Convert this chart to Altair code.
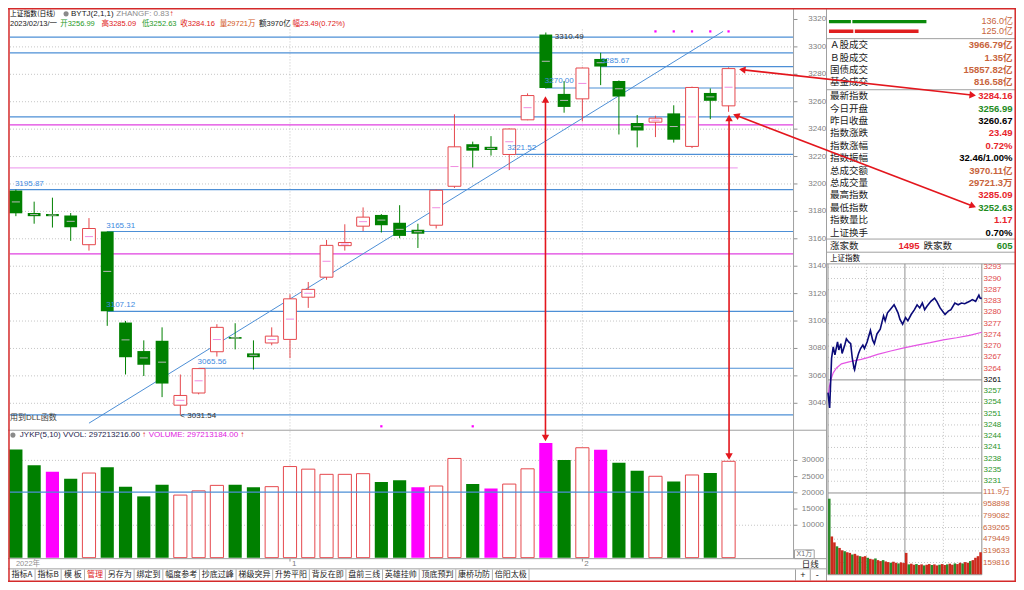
import math
import numpy as np
import pandas as pd
import altair as alt

W, H = 1008, 574
def X(v): return v * W / 1024.0
def Y(v): return v * H / 590.0

# ==================== DATA ====================
# daily candles, 2022-12-12 .. 2023-02-13 (上证指数)
opens = [3195.2, 3178.8, 3178.1, 3177.0, 3155.7, 3165.31, 3098.9, 3078.1, 3085.6, 3038.6,
         3047.5, 3077.6, 3088.3, 3076.4, 3084.0, 3086.6, 3117.4, 3132.0, 3155.0, 3169.2,
         3177.4, 3171.7, 3166.6, 3169.9, 3198.3, 3229.0, 3227.1, 3221.52, 3246.8, 3309.0,
         3265.7, 3262.1, 3291.2, 3275.1, 3244.5, 3245.1, 3251.5, 3227.4, 3266.4, 3256.99]
highs = [3195.87, 3187.1, 3190.0, 3178.8, 3175.1, 3165.31, 3100.1, 3085.9, 3095.4, 3061.0,
         3065.56, 3097.7, 3098.4, 3085.9, 3095.4, 3119.5, 3128.5, 3159.2, 3170.6, 3182.9,
         3178.0, 3184.5, 3171.0, 3196.0, 3250.8, 3230.9, 3234.9, 3240.5, 3266.1, 3310.49,
         3275.1, 3285.0, 3295.7, 3275.5, 3250.3, 3249.8, 3257.4, 3271.0, 3269.7, 3285.09]
lows = [3176.5, 3171.0, 3168.2, 3158.5, 3151.4, 3096.5, 3061.0, 3059.9, 3044.5, 3031.54,
        3046.5, 3074.1, 3079.3, 3064.6, 3082.3, 3072.9, 3109.6, 3130.1, 3151.4, 3165.6,
        3164.6, 3160.4, 3153.3, 3167.5, 3197.1, 3212.0, 3220.7, 3210.1, 3246.5, 3269.5,
        3252.0, 3245.6, 3272.1, 3236.1, 3226.7, 3234.2, 3230.2, 3226.2, 3247.3, 3252.63]
closes = [3178.6, 3176.5, 3176.5, 3168.5, 3167.5, 3107.12, 3073.6, 3068.1, 3054.4, 3045.7,
          3065.3, 3095.4, 3087.1, 3073.6, 3089.0, 3116.2, 3123.1, 3155.2, 3157.3, 3175.8,
          3169.9, 3162.1, 3163.7, 3195.4, 3227.1, 3224.3, 3224.8, 3240.1, 3264.5, 3270.0,
          3256.2, 3284.6, 3285.67, 3263.8, 3239.0, 3248.0, 3232.3, 3270.4, 3260.67, 3284.16]
volumes = [33340, 28520, 26500, 24300, 26100, 27900, 21900, 18900, 22500, 19300,
           20600, 22300, 22500, 21700, 21900, 28100, 27300, 25700, 25700, 25900,
           23300, 23900, 21700, 22100, 30600, 22700, 21300, 22700, 27400, 35400,
           30100, 33900, 33300, 29300, 26800, 25100, 23500, 25500, 26100, 29721]
volume_kind = ["g", "g", "m", "g", "r", "g", "g", "g", "g", "r",
               "r", "r", "g", "g", "r", "r", "r", "r", "r", "r",
               "g", "g", "m", "r", "r", "g", "m", "r", "r", "m",
               "g", "r", "m", "g", "g", "r", "g", "r", "g", "r"]
month_first_index = [16, 32]
month_labels = ["1", "2"]

blue_levels = [3307.1, 3295.7, 3285.67, 3270.00, 3248.9, 3221.52, 3195.87, 3165.31, 3107.12, 3065.56, 3031.54]
blue_from = [0.67, 0.67, 33, 30, 0.67, 28, 0.67, 6, 6, 11, 0.67]
magenta_levels = [3243.1, 3149.0]
magenta_light_level = [3211.8]
trend_index = [5.0, 39.7]
trend_price = [3025.5, 3311.3]
vol_level = [20240]
signal_top_index = [36, 37, 38, 39, 40]
signal_bottom_index = [21, 26]

ann_index = [1, 6, 6, 11, 10, 28, 30, 33, 30]
ann_price = [3195.87, 3165.31, 3107.12, 3065.56, 3031.54, 3221.52, 3270.00, 3285.67, 3310.49]
ann_text = ["3195.87", "3165.31", "3107.12", "3065.56", "<  3031.54", "3221.52", "3270.00", "3285.67", "3310.49"]

price_ticks = [3320, 3300, 3280, 3260, 3240, 3220, 3200, 3180, 3160, 3140, 3120, 3100, 3080, 3060, 3040]
vol_ticks = [30000, 25000, 20000, 15000, 10000]

# right info panel
flow_values = [136.0, 125.0]
flow_labels = ["136.0亿", "125.0亿"]
g1_labels = ["Ａ股成交", "Ｂ股成交", "国债成交", "基金成交"]
g1_values = ["3966.79亿", "1.35亿", "15857.82亿", "816.58亿"]
g2_labels = ["最新指数", "今日开盘", "昨日收盘", "指数涨跌", "指数涨幅", "指数振幅",
             "总成交额", "总成交量", "最高指数", "最低指数", "指数量比", "上证换手"]
g2_values = ["3284.16", "3256.99", "3260.67", "23.49", "0.72%", "32.46/1.00%",
             "3970.11亿", "29721.3万", "3285.09", "3252.63", "1.17", "0.70%"]
g2_kind = ["r", "g", "k", "r", "r", "k", "o", "o", "r", "g", "r", "k"]
up_count, down_count = "1495", "605"

# intraday (minutes from open)
intraday_min = [0, 2.6, 5.6, 8.2, 10.8, 14.9, 16.9, 20, 22, 26.2, 28.7, 32.3, 35.4, 37.9, 40.5,
                41.5, 44.1, 47.7, 50.8, 54.4, 56.9, 61, 66.2, 69.7, 72.3, 76.4, 81.5, 86.7, 89.2,
                92.8, 96.9, 103.1, 105.6, 109.2, 112.3, 116.4, 121, 124.6, 129.7, 134.9, 139,
                143.1, 147.2, 150.8, 154.4, 160.5, 166.2, 169.7, 174.9, 182.6, 187.7, 191.8,
                197.9, 203.1, 208.2, 213.3, 221, 225.1, 230.3, 235.4, 237.4, 240]
intraday_px = [3257.0, 3252.6, 3266.9, 3270.2, 3267.9, 3271.6, 3269.3, 3271.1, 3268.3, 3270.7,
               3272.5, 3271.6, 3271.1, 3266.9, 3264.1, 3263.6, 3266.0, 3268.3, 3269.7, 3270.7,
               3269.7, 3271.6, 3274.9, 3272.1, 3271.1, 3273.9, 3275.3, 3279.1, 3277.7, 3280.0,
               3280.9, 3282.3, 3281.4, 3280.0, 3278.1, 3276.7, 3278.6, 3277.7, 3279.5, 3280.9,
               3282.3, 3281.4, 3282.8, 3280.9, 3281.9, 3283.3, 3284.2, 3283.3, 3281.4, 3279.5,
               3280.5, 3280.9, 3282.8, 3282.3, 3282.8, 3282.6, 3283.3, 3283.8, 3283.3, 3285.1,
               3284.2, 3284.16]
avg_min = [0.5, 2, 4.6, 8.2, 13.3, 21, 31.3, 41.5, 51.8, 62, 77.4, 97.9, 118.5, 139, 159.5,
           180, 200.5, 221, 240]
avg_px = [3256.6, 3258.5, 3260.8, 3262.7, 3264.1, 3265.3, 3265.8, 3266.2, 3266.6, 3267.1,
          3268.0, 3269.0, 3269.9, 3270.7, 3271.4, 3272.2, 3272.8, 3273.5, 3274.4]
intraday_vol_k = [1034, 517, 436, 382, 360, 328, 315, 301, 292, 270,
                  279, 256, 247, 238, 247, 225, 211, 202, 216, 193,
                  180, 193, 175, 166, 157, 171, 157, 148, 162, 153,
                  292, 135, 144, 130, 139, 126, 135, 121, 130, 139,
                  126, 135, 121, 130, 139, 126, 135, 144, 130, 148,
                  139, 157, 148, 166, 157, 180, 193, 225, 247, 301]
intraday_vol_up = [0, 1, 1, 0, 1, 1, 0, 1, 1, 0, 1, 1, 0, 1, 1, 0, 1, 1, 0, 1,
                   1, 0, 1, 1, 0, 1, 1, 0, 1, 1, 1, 0, 1, 1, 0, 1, 1, 0, 1, 1,
                   0, 1, 1, 0, 1, 1, 0, 1, 1, 0, 1, 1, 0, 1, 1, 0, 1, 1, 1, 1]
prev_close = 3260.67
ip_tick_labels = ["3293", "3290", "3287", "3283", "3280", "3277", "3274", "3270", "3267", "3264",
                  "3261", "3257", "3254", "3251", "3248", "3244", "3241", "3238", "3235", "3231"]
iv_tick_values = [1119000, 958898, 799082, 639265, 479449, 319633, 159816]
iv_tick_labels = ["111.9万", "958898", "799082", "639265", "479449", "319633", "159816"]

tool_buttons = ["指标A", "指标B", "模 板", "管理", "另存为", "绑定到", "幅度参考", "抄底过峰",
                "梯级突异", "升势平阳", "背反在即", "盘前三线", "英雄挂帅", "顶底预判", "康桥功防", "倍阳太极"]

# ==================== STYLE ====================
RED = "#e5484d"
ARROW = "#e3161d"
GREEN = "#008000"
GREEN_T = "#1f9a1f"
MAG = "#ff00ff"
BLUE = "#4d8fd6"
BLUE_T = "#3d8ae0"
GRID = "#c4c4c4"
LINE = "#a0a0a0"
ORANGE = "#c8643c"
FONT = "'Liberation Sans', 'Noto Sans CJK SC', sans-serif"
CJK = "'Noto Sans CJK SC', sans-serif"


def sc(d, r):
    return alt.Scale(domain=list(d), range=list(r), nice=False, zero=False)

XR = sc([0, 1024], [0, W]); YR = sc([0, 590], [0, H])
XI = sc([1, 40], [X(8), X(732)])
YP = sc([3040, 3320], [Y(406.3), Y(11.8)])
YV = sc([0, 30000], [Y(565), Y(465)])
XM = sc([0, 240], [X(833), X(989.3)])
YIP = sc([3228.23, 3293.11], [Y(498), Y(266.5)])
YIV = sc([0, 1119000], [Y(582), Y(498)])
XB = sc([0, 136], [X(834), X(933)])


def ex(f, s): return alt.X(f + ':Q', scale=s, axis=None)
def ey(f, s): return alt.Y(f + ':Q', scale=s, axis=None)


def chrome_rules(rows, color, width=1.0, dash=None):
    d = pd.DataFrame(rows, columns=['x', 'y', 'x2', 'y2'])
    kw = dict(color=color, strokeWidth=width)
    if dash:
        kw['strokeDash'] = dash
    return alt.Chart(d).mark_rule(**kw).encode(
        x=ex('x', XR), y=ey('y', YR), x2=alt.X2('x2'), y2=alt.Y2('y2'))


def chrome_text(rows, align='left', weight='normal', font=FONT):
    d = pd.DataFrame(rows, columns=['x', 'y', 't', 'c', 's'])
    return alt.Chart(d).mark_text(align=align, baseline='middle', fontWeight=weight, font=font).encode(
        x=ex('x', XR), y=ey('y', YR), text='t:N',
        color=alt.Color('c:N', scale=None), size=alt.Size('s:Q', scale=None))


L = []

# ---------- price panel grid & levels ----------
L.append(alt.Chart(pd.DataFrame({'p': price_ticks[1:]})).mark_rule(color=GRID, strokeDash=[1, 2]).encode(
    y=ey('p', YP), x=alt.value(X(2)), x2=alt.value(X(798))))
L.append(alt.Chart(pd.DataFrame({'v': [30000, 10000]})).mark_rule(color=GRID, strokeDash=[1, 2]).encode(
    y=ey('v', YV), x=alt.value(X(2)), x2=alt.value(X(798))))
L.append(alt.Chart(pd.DataFrame({'i': month_first_index})).mark_rule(color=GRID, strokeDash=[1, 2]).encode(
    x=ex('i', XI), y=alt.value(Y(22)), y2=alt.value(Y(566))))

bl = pd.DataFrame({'p': blue_levels, 's': blue_from, 'e': [43.56] * len(blue_levels)})
L.append(alt.Chart(bl).mark_rule(color=BLUE, strokeWidth=1.2).encode(
    x=ex('s', XI), x2=alt.X2('e'), y=ey('p', YP)))
L.append(alt.Chart(pd.DataFrame({'p': magenta_levels, 's': [0.67, 0.67], 'e': [43.56, 43.56]}))
         .mark_rule(color="#e040e0", strokeWidth=1.2).encode(x=ex('s', XI), x2=alt.X2('e'), y=ey('p', YP)))
L.append(alt.Chart(pd.DataFrame({'p': magenta_light_level, 's': [0.67], 'e': [40.5]}))
         .mark_rule(color="#f0a8f0", strokeWidth=1.2).encode(x=ex('s', XI), x2=alt.X2('e'), y=ey('p', YP)))
L.append(alt.Chart(pd.DataFrame({'a': [trend_index[0]], 'b': [trend_index[1]],
                                 'p': [trend_price[0]], 'q': [trend_price[1]]}))
         .mark_rule(color=BLUE, strokeWidth=1).encode(
             x=ex('a', XI), x2=alt.X2('b'), y=ey('p', YP), y2=alt.Y2('q')))

# ---------- candles ----------
cd = pd.DataFrame({'i': list(range(1, 41)), 'o': opens, 'h': highs, 'l': lows, 'c': closes,
                   'v': volumes, 'k': volume_kind})
up = cd.c >= cd.o
cd['up'] = up
cd['wc'] = np.where(up, RED, GREEN)
cd['bl'] = cd.i - 0.35
cd['br'] = cd.i + 0.35
cd['lo'] = np.minimum(cd.o, cd.c)
cd['hi'] = np.maximum(cd.o, cd.c)
cd['mid'] = (cd.o + cd.c) / 2
cd['ml'] = cd.i - 0.22
cd['mr'] = cd.i + 0.22
cd['mc'] = np.where(up, "#f08ce0", "#b8b8b8")
cd['z'] = 0.0
cd['vl'] = cd.i - 0.36
cd['vr'] = cd.i + 0.36

L.append(alt.Chart(cd).mark_rule(strokeWidth=1).encode(
    x=ex('i', XI), y=ey('l', YP), y2=alt.Y2('h'), color=alt.Color('wc:N', scale=None)))
L.append(alt.Chart(cd[~cd.up]).mark_rect(color=GREEN).encode(
    x=ex('bl', XI), x2=alt.X2('br'), y=ey('lo', YP), y2=alt.Y2('hi')))
L.append(alt.Chart(cd[cd.up]).mark_rect(fill='white', stroke=RED, strokeWidth=1).encode(
    x=ex('bl', XI), x2=alt.X2('br'), y=ey('lo', YP), y2=alt.Y2('hi')))
L.append(alt.Chart(cd).mark_rule(strokeWidth=1).encode(
    x=ex('ml', XI), x2=alt.X2('mr'), y=ey('mid', YP), color=alt.Color('mc:N', scale=None)))

# ---------- volume ----------
L.append(alt.Chart(cd[cd.k == 'g']).mark_rect(color=GREEN).encode(
    x=ex('vl', XI), x2=alt.X2('vr'), y=ey('v', YV), y2=alt.Y2('z')))
L.append(alt.Chart(cd[cd.k == 'm']).mark_rect(color=MAG).encode(
    x=ex('vl', XI), x2=alt.X2('vr'), y=ey('v', YV), y2=alt.Y2('z')))
L.append(alt.Chart(cd[cd.k == 'r']).mark_rect(fill='white', stroke=RED, strokeWidth=1).encode(
    x=ex('vl', XI), x2=alt.X2('vr'), y=ey('v', YV), y2=alt.Y2('z')))
L.append(alt.Chart(pd.DataFrame({'v': vol_level})).mark_rule(color=BLUE, strokeWidth=1.2).encode(
    y=ey('v', YV), x=alt.value(X(2)), x2=alt.value(X(798))))

# ---------- annotations ----------
ann_dx = [-1, -1, -1, -1, 0, -2, -1, 0, 9]
ann_dy = [-6, -6, -6, -6, 1, -6, -7, -6, 4]
for k in range(len(ann_text)):
    col = "#303030" if k in (4, 8) else BLUE_T
    d = pd.DataFrame({'i': [ann_index[k]], 'p': [ann_price[k]], 't': [ann_text[k]]})
    L.append(alt.Chart(d).mark_text(align='left', baseline='middle', dx=ann_dx[k], dy=ann_dy[k],
                                    color=col, font=FONT, fontSize=8).encode(
        x=ex('i', XI), y=ey('p', YP), text='t:N'))
L.append(alt.Chart(pd.DataFrame({'i': signal_top_index, 'p': [3311.3] * 5})).mark_square(size=5, color=MAG, opacity=1).encode(
    x=ex('i', XI), y=ey('p', YP)))
L.append(alt.Chart(pd.DataFrame({'i': signal_bottom_index, 'p': [3023.2] * 2})).mark_square(size=5, color=MAG, opacity=1).encode(
    x=ex('i', XI), y=ey('p', YP)))

# ---------- axes ----------
L.append(alt.Chart(pd.DataFrame({'p': price_ticks, 't': [str(v) for v in price_ticks]}))
         .mark_text(align='left', baseline='middle', color="#808080", font=FONT, fontSize=8).encode(
             x=alt.value(X(813)), y=ey('p', YP), text='t:N'))
L.append(alt.Chart(pd.DataFrame({'p': price_ticks})).mark_rule(color="#909090").encode(
    y=ey('p', YP), x=alt.value(X(798)), x2=alt.value(X(802))))
L.append(alt.Chart(pd.DataFrame({'v': vol_ticks, 't': [str(v) for v in vol_ticks]}))
         .mark_text(align='right', baseline='middle', color="#808080", font=FONT, fontSize=8).encode(
             x=alt.value(X(829)), y=ey('v', YV), text='t:N'))
L.append(alt.Chart(pd.DataFrame({'v': vol_ticks})).mark_rule(color="#909090").encode(
    y=ey('v', YV), x=alt.value(X(798)), x2=alt.value(X(802))))
L.append(alt.Chart(pd.DataFrame({'i': month_first_index, 't': month_labels}))
         .mark_text(align='left', baseline='middle', dx=2, color="#808080", font=FONT, fontSize=8).encode(
             x=ex('i', XI), y=alt.value(Y(571)), text='t:N'))
L.append(alt.Chart(pd.DataFrame({'i': month_first_index})).mark_rule(color="#909090").encode(
    x=ex('i', XI), y=alt.value(Y(566)), y2=alt.value(Y(569))))

# ---------- structure lines ----------
L.append(chrome_rules([
    (798, 0, 798, 566), (0, 434, 831, 434), (0, 566, 831, 566), (0, 576.5, 831, 576.5),
    (831.5, 0, 831.5, 590), (831.5, 31.5, 1023, 31.5), (831.5, 84, 1023, 84),
    (831.5, 237.5, 1023, 237.5), (831.5, 251, 1023, 251), (831.5, 263, 1023, 263),
    (799, 557, 819, 557), (799, 566, 819, 566), (799, 557, 799, 566), (819, 557, 819, 566),
    (800, 577, 800, 588.5), (815, 577, 815, 588.5),
], LINE))
L.append(chrome_rules([(1, 0, 1, 590), (0, 0.8, 1024, 0.8), (1023.2, 0, 1023.2, 590),
                       (0, 589.2, 1024, 589.2)], "#d42a2a", 1.5))

# ---------- header texts ----------
L.append(chrome_text([(2, 6, "上证指数(日线)", "#000000", 6.8)], font=CJK))
L.append(alt.Chart(pd.DataFrame({'x': [59, 5], 'y': [6, 439]})).mark_circle(size=26, color="#8a8a8a", opacity=1).encode(
    x=ex('x', XR), y=ey('y', YR)))
L.append(chrome_text([
    (64, 6, "BYTJ(2,1,1)", "#202020", 8),
    (110, 6, "ZHANGF: 0.83", "#8c8c8c", 8),
    (164, 6, "↑", "#e02020", 8),
    (2, 16, "2023/02/13/一", "#202020", 7.5),
    (53, 16, "开3256.99", GREEN_T, 7.5),
    (95, 16, "高3285.09", "#e02020", 7.5),
    (136, 16, "低3252.63", GREEN_T, 7.5),
    (175, 16, "收3284.16", "#e02020", 7.5),
    (215, 16, "量29721万", "#d2581e", 7.5),
    (255, 16, "额3970亿", "#202020", 7.5),
    (289, 16, "幅23.49(0.72%)", "#e02020", 7.5),
    (12, 439, "JYKP(5,10) VVOL: 297213216.00", "#1c1c4c", 8),
    (136, 439, "↑", "#e02020", 8),
    (143, 439, "VOLUME: 297213184.00", "#e020e0", 8),
    (236, 439, "↑", "#e02020", 8),
    (2, 421, "用到DLL函数", "#404040", 8),
    (8, 571, "2022年", "#909090", 7.5),
]))
L.append(chrome_text([(815, 571.5, "日线", "#202020", 8.5), (809, 561.5, "X1万", "#707070", 7),
                      (807.5, 583, "+", "#202020", 9), (822, 583, "-", "#202020", 9)], align='center'))

# ---------- toolbar ----------
def tw(s):
    return sum(8.0 if ord(ch) > 255 else (2.5 if ch == ' ' else 5.3) for ch in s)
xpos = 1.0
tb_rows, tb_seps = [], []
for name in tool_buttons:
    w = tw(name) + 5.2
    tb_rows.append((xpos + w / 2, 582.8, name, "#e02020" if name == "管理" else "#1a1a1a", 8))
    xpos += w
    tb_seps.append((xpos, 577, xpos, 588.5))
L.append(chrome_rules(tb_seps, "#b0b0b0"))
L.append(chrome_text(tb_rows, align='center', font=CJK))

# ---------- right info panel ----------
fb = pd.DataFrame({'v': flow_values, 'z': [0.0, 0.0], 'y0': [12.3, 22.0], 'y1': [15.7, 25.7],
                   'c': ["#0a8a0a", "#e02020"]})
L.append(alt.Chart(fb).mark_rect().encode(x=ex('z', XB), x2=alt.X2('v'), y=ey('y0', YR), y2=alt.Y2('y1'),
                                          color=alt.Color('c:N', scale=None)))
L.append(chrome_rules([(857, 11, 857, 17), (859.5, 21, 859.5, 27)], "white", 1.5))
L.append(chrome_text([(1021, 13.5, flow_labels[0], ORANGE, 9), (1021, 24, flow_labels[1], ORANGE, 9)], align='right'))

lab_rows, val_rows = [], []
for k, (lab, val) in enumerate(zip(g1_labels, g1_values)):
    yy = 38.3 + 12.6 * k
    lab_rows.append((835, yy, lab, "#1a1a1a", 9.5))
    val_rows.append((1020.5, yy, val, ORANGE, 9.5))
kc = {'r': "#e8242c", 'g': "#1e8c1e", 'k': "#000000", 'o': ORANGE}
for k, (lab, val) in enumerate(zip(g2_labels, g2_values)):
    yy = 90.7 + 12.75 * k
    lab_rows.append((835, yy, lab, "#1a1a1a", 9.5))
    val_rows.append((1020.5, yy, val, kc[g2_kind[k]], 9.5))
lab_rows += [(835, 244.3, "涨家数", "#1a1a1a", 9.5), (930, 244.3, "跌家数", "#1a1a1a", 9.5),
             (835, 257.5, "上证指数", "#000000", 7.5)]
val_rows += [(926, 244.3, up_count, "#e8242c", 9.5), (1020.5, 244.3, down_count, "#1e8c1e", 9.5)]
L.append(chrome_text(lab_rows, font=CJK))
L.append(chrome_text(val_rows, align='right', weight='bold'))

# ---------- intraday chart ----------
step = (3293.11 - prev_close) / 10.0
ip_levels = [3293.11 - step * k for k in range(20)]
L.append(alt.Chart(pd.DataFrame({'p': [p for k, p in enumerate(ip_levels) if k != 10]}))
         .mark_rule(color=GRID, strokeDash=[1, 2]).encode(
             y=ey('p', YIP), x=alt.value(X(833)), x2=alt.value(X(989.3))))
L.append(alt.Chart(pd.DataFrame({'v': iv_tick_values[1:]})).mark_rule(color=GRID, strokeDash=[1, 2]).encode(
    y=ey('v', YIV), x=alt.value(X(833)), x2=alt.value(X(989.3))))
L.append(alt.Chart(pd.DataFrame({'m': [60, 180]})).mark_rule(color=GRID, strokeDash=[1, 2]).encode(
    x=ex('m', XM), y=alt.value(Y(263)), y2=alt.value(Y(582.5))))
L.append(alt.Chart(pd.DataFrame({'m': [0, 120, 240]})).mark_rule(color="#909090").encode(
    x=ex('m', XM), y=alt.value(Y(263)), y2=alt.value(Y(582.5))))
L.append(alt.Chart(pd.DataFrame({'p': [prev_close]})).mark_rule(color="#909090").encode(
    y=ey('p', YIP), x=alt.value(X(833)), x2=alt.value(X(989.3))))
L.append(chrome_rules([(833, 498.5, 989.3, 498.5), (833, 582.5, 989.3, 582.5)], "#909090"))

ivd = pd.DataFrame({'s': [4.0 * k for k in range(60)], 'e': [4.0 * k + 4 for k in range(60)],
                    'v': [v * 1000 for v in intraday_vol_k], 'z': [0.0] * 60,
                    'c': ["#cc2a1e" if u else "#2a8a2a" for u in intraday_vol_up]})
L.append(alt.Chart(ivd).mark_rect().encode(x=ex('s', XM), x2=alt.X2('e'), y=ey('v', YIV), y2=alt.Y2('z'),
                                           color=alt.Color('c:N', scale=None)))
L.append(alt.Chart(pd.DataFrame({'m': avg_min, 'p': avg_px})).mark_line(color="#e455e4", strokeWidth=1.2).encode(
    x=ex('m', XM), y=ey('p', YIP)))
L.append(alt.Chart(pd.DataFrame({'m': intraday_min, 'p': intraday_px})).mark_line(color="#0a0a78", strokeWidth=1.6).encode(
    x=ex('m', XM), y=ey('p', YIP)))
ipl = pd.DataFrame({'p': ip_levels, 't': ip_tick_labels,
                    'c': ["#e04848" if k < 10 else ("#000000" if k == 10 else "#2c962c") for k in range(20)]})
L.append(alt.Chart(ipl).mark_text(align='left', baseline='middle', font=FONT, fontSize=8).encode(
    x=alt.value(X(991)), y=ey('p', YIP), text='t:N', color=alt.Color('c:N', scale=None)))
L.append(alt.Chart(pd.DataFrame({'v': iv_tick_values, 't': iv_tick_labels}))
         .mark_text(align='left', baseline='middle', font=FONT, fontSize=8, color=ORANGE).encode(
             x=alt.value(X(990.5)), y=ey('v', YIV), text='t:N'))

# ---------- red arrows ----------
arrows = [((546, 90), (546, 446)), ((732.5, 109), (732.5, 465)),
          ((742, 63), (984, 90)), ((736, 109), (984, 205))]
seg_rows, heads = [], []
for (x1, y1), (x2, y2) in arrows:
    dx, dy = x2 - x1, y2 - y1
    n = math.hypot(dx, dy)
    ux, uy = dx / n, dy / n
    seg_rows.append((x1 + ux * 3, y1 + uy * 3, x2 - ux * 3, y2 - uy * 3))
    a_end = math.degrees(math.atan2(ux, -uy)) % 360
    a_start = (a_end + 180) % 360
    heads.append((x2 - ux * 4, y2 - uy * 4, a_end))
    heads.append((x1 + ux * 4, y1 + uy * 4, a_start))
L.append(chrome_rules(seg_rows, ARROW, 1.6))
hd = pd.DataFrame(heads, columns=['x', 'y', 'a'])
L.append(alt.Chart(hd).mark_point(shape='triangle-up', filled=True, size=55, color=ARROW, opacity=1).encode(
    x=ex('x', XR), y=ey('y', YR), angle=alt.Angle('a:Q', scale=None)))

chart = alt.layer(*L).resolve_scale(x='independent', y='independent').properties(
    width=W, height=H, padding=0, autosize=alt.AutoSizeParams(type='none'), background='white'
).configure_view(stroke=None)

chart.save("out.html", embed_options={"renderer": "svg", "actions": False})
